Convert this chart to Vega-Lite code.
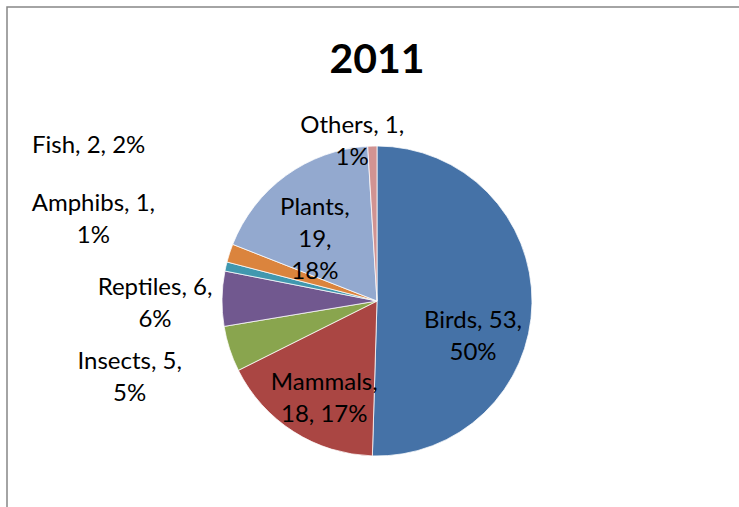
{
  "$schema": "https://vega.github.io/schema/vega-lite/v6.json",
  "width": 740,
  "height": 588,
  "autosize": {"type": "none"},
  "padding": {"left": 7, "top": 7, "right": -8, "bottom": -88},
  "background": "white",
  "view": {"stroke": "#878787", "strokeWidth": 1.5, "fill": "white"},
  "title": {
    "text": "2011",
    "font": "Lato",
    "fontSize": 41,
    "fontWeight": "bold",
    "color": "black",
    "anchor": "middle",
    "frame": "group",
    "offset": -107,
    "baseline": "alphabetic"
  },
  "config": {"view": {"stroke": "#878787", "strokeWidth": 1.5}},
  "data": {
    "values": [
      {"category": "Birds", "value": 53, "n": 1, "label": "Birds, 53,\n50%"},
      {"category": "Mammals", "value": 18, "n": 2, "label": "Mammals,\n18, 17%"},
      {"category": "Insects", "value": 5, "n": 3, "label": "Insects, 5,\n5%"},
      {"category": "Reptiles", "value": 6, "n": 4, "label": "Reptiles, 6,\n6%"},
      {"category": "Amphibs", "value": 1, "n": 5, "label": "Amphibs, 1,\n1%"},
      {"category": "Fish", "value": 2, "n": 6, "label": "Fish, 2, 2%"},
      {"category": "Plants", "value": 19, "n": 7, "label": "Plants,\n19,\n18%"},
      {"category": "Others", "value": 1, "n": 8, "label": "Others, 1,\n1%"}
    ]
  },
  "encoding": {
    "theta": {"field": "value", "type": "quantitative", "stack": true},
    "order": {"field": "n", "type": "quantitative"}
  },
  "layer": [
    {
      "mark": {"type": "arc", "outerRadius": 155, "stroke": "white", "strokeWidth": 0.75},
      "encoding": {
        "color": {
          "field": "category",
          "type": "nominal",
          "scale": {
            "domain": ["Birds", "Mammals", "Insects", "Reptiles", "Amphibs", "Fish", "Plants", "Others"],
            "range": ["#4572A7", "#AA4643", "#89A54E", "#71588F", "#4198AF", "#DB843D", "#93A9CF", "#D19392"]
          },
          "legend": null
        }
      }
    },
    {
      "mark": {
        "type": "text",
        "font": "Lato",
        "fontSize": 24,
        "lineBreak": "\n",
        "lineHeight": 32,
        "align": "center",
        "baseline": "middle",
        "color": "black",
        "radius": {"expr": "datum.category=='Birds'?96:datum.category=='Mammals'?111:datum.category=='Insects'?259:datum.category=='Reptiles'?222:datum.category=='Amphibs'?295:datum.category=='Fish'?300:datum.category=='Plants'?87:161"},
        "dx": {"expr": "datum.category=='Birds'?0:datum.category=='Mammals'?7:datum.category=='Insects'?-1:datum.category=='Reptiles'?0:datum.category=='Amphibs'?4:datum.category=='Fish'?-3:datum.category=='Plants'?-11:-20"},
        "dy": {"expr": "datum.category=='Birds'?19:datum.category=='Mammals'?-12:datum.category=='Insects'?-19:datum.category=='Reptiles'?-10:datum.category=='Amphibs'?-31:datum.category=='Fish'?-62:datum.category=='Plants'?-23:-14"}
      },
      "encoding": {
        "text": {"field": "label", "type": "nominal"},
        "detail": {"field": "category", "type": "nominal"}
      }
    }
  ]
}
